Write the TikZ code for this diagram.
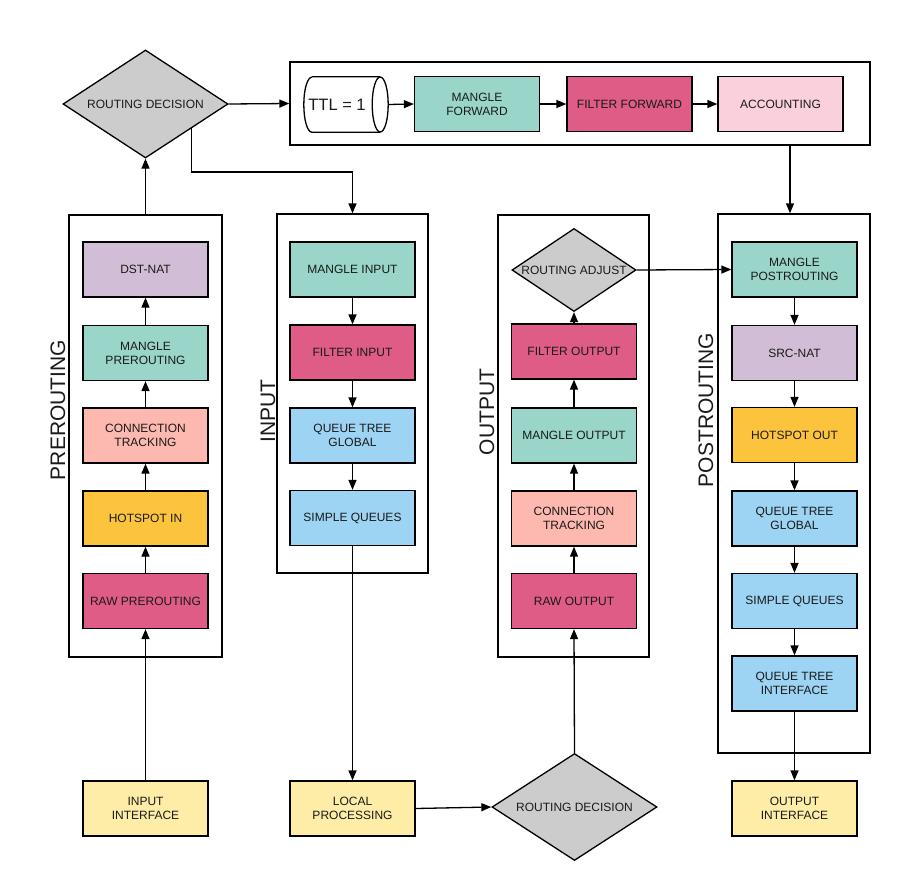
\documentclass[tikz,border=0pt]{standalone}
\usepackage{fontspec}
\setmainfont{Liberation Sans}
\usetikzlibrary{shapes.geometric,arrows.meta}
\definecolor{txt}{HTML}{1A1A1A}
\definecolor{cmangle}{HTML}{9AD5CA}
\definecolor{cfilter}{HTML}{DE5C86}
\definecolor{cacct}{HTML}{F9D0DC}
\definecolor{cnat}{HTML}{D2BDD6}
\definecolor{cconn}{HTML}{FDB8AF}
\definecolor{chot}{HTML}{FBC43C}
\definecolor{cqueue}{HTML}{9DD3F3}
\definecolor{ciface}{HTML}{FEEDA6}
\definecolor{cdec}{HTML}{CCCCCC}
\begin{document}
\begin{tikzpicture}[x=1pt,y=-1pt,
  stagebox/.style={draw=black, line width=1.3pt, minimum width=125pt, minimum height=55pt, inner sep=0pt, align=center, text=txt, font=\fontsize{12}{14}\selectfont},
  framebox/.style={draw=black, line width=1.3pt, inner sep=0pt},
  decision/.style={diamond, draw=black, line width=1.3pt, fill=cdec, aspect=1.5, inner sep=0pt, text=txt, font=\fontsize{12}{14}\selectfont},
  arr/.style={line width=1.3pt, -{Triangle[length=10pt,width=8pt]}},
  plain/.style={line width=1.3pt},
  chainlabel/.style={rotate=90, font=\fontsize{21}{21}\selectfont, inner sep=0pt, text height=15pt, text depth=0pt, text=txt}]
\useasboundingbox (0,0) rectangle (913,886);

% containers
\node[framebox, minimum width=153pt, minimum height=442pt] (prebox) at (145.5,436) {};
\node[framebox, minimum width=151pt, minimum height=359pt] (inbox) at (352.5,393.5) {};
\node[framebox, minimum width=151pt, minimum height=442pt] (outbox) at (573.5,436) {};
\node[framebox, minimum width=152pt, minimum height=539pt] (postbox) at (794,483.5) {};
\node[framebox, minimum width=580pt, minimum height=83pt] (topbox) at (580,103.5) {};

% chain labels
\node[chainlabel] (lpre) at (57.5,410) {PREROUTING};
\node[chainlabel] (lin) at (267.5,411) {INPUT};
\node[chainlabel] (lout) at (486.5,412) {OUTPUT};
\node[chainlabel] (lpost) at (705.5,410) {POSTROUTING};

% decisions
\node[decision, minimum width=165pt, minimum height=108pt] (dec1) at (145.5,104) {ROUTING DECISION};
\node[decision, minimum width=165pt, minimum height=107pt] (dec2) at (574.5,807) {ROUTING DECISION};
\node[decision, minimum width=124pt, minimum height=83pt] (radj) at (574,270) {ROUTING ADJUST};

% prerouting
\node[stagebox, fill=cnat] (dstnat) at (145.5,269.5) {DST-NAT};
\node[stagebox, fill=cmangle] (mpre) at (145.5,353) {MANGLE\\PREROUTING};
\node[stagebox, fill=cconn] (ctpre) at (145.5,435.5) {CONNECTION\\TRACKING};
\node[stagebox, fill=chot] (hin) at (145.5,518.5) {HOTSPOT IN};
\node[stagebox, fill=cfilter] (rawpre) at (145.5,601) {RAW PREROUTING};

% input
\node[stagebox, fill=cmangle] (min) at (352.5,269.5) {MANGLE INPUT};
\node[stagebox, fill=cfilter] (fin) at (352.5,352.5) {FILTER INPUT};
\node[stagebox, fill=cqueue] (qtgin) at (352.5,435.5) {QUEUE TREE\\GLOBAL};
\node[stagebox, fill=cqueue] (sqin) at (352.5,518) {SIMPLE QUEUES};

% output
\node[stagebox, fill=cfilter] (fout) at (574,351.5) {FILTER OUTPUT};
\node[stagebox, fill=cmangle] (mout) at (574,435.5) {MANGLE OUTPUT};
\node[stagebox, fill=cconn] (ctout) at (574,518.5) {CONNECTION\\TRACKING};
\node[stagebox, fill=cfilter] (rawout) at (574,601) {RAW OUTPUT};

% postrouting
\node[stagebox, fill=cmangle] (mpost) at (794.5,269.5) {MANGLE\\POSTROUTING};
\node[stagebox, fill=cnat] (srcnat) at (794.5,353) {SRC-NAT};
\node[stagebox, fill=chot] (hout) at (794.5,435) {HOTSPOT OUT};
\node[stagebox, fill=cqueue] (qtgpost) at (794.5,518.5) {QUEUE TREE\\GLOBAL};
\node[stagebox, fill=cqueue] (sqpost) at (794.5,601) {SIMPLE QUEUES};
\node[stagebox, fill=cqueue] (qti) at (794.5,683.5) {QUEUE TREE\\INTERFACE};

% bottom
\node[stagebox, fill=ciface] (inif) at (145.5,808.5) {INPUT\\INTERFACE};
\node[stagebox, fill=ciface] (lp) at (352.5,808.5) {LOCAL\\PROCESSING};
\node[stagebox, fill=ciface] (outif) at (794.5,808.5) {OUTPUT\\INTERFACE};

% forward row
\node[inner sep=0pt, minimum width=84pt, minimum height=55pt] (ttl) at (346,104.5) {};
\node[inner sep=0pt, text=txt, font=\fontsize{16.5}{16.5}\selectfont] (ttltext) at (337,104.5) {TTL = 1};
\draw[plain] ([xshift=8pt]ttl.north west) -- ([xshift=-8pt]ttl.north east)
  ([xshift=-8pt]ttl.south east) -- ([xshift=8pt]ttl.south west)
  arc[start angle=270, end angle=90, x radius=8pt, y radius=27.5pt];
\draw[plain] ([xshift=-8pt]ttl.east) ellipse [x radius=8pt, y radius=27.5pt];
\node[stagebox, fill=cmangle] (mfwd) at (477,104) {MANGLE\\FORWARD};
\node[stagebox, fill=cfilter] (ffwd) at (629.5,104) {FILTER FORWARD};
\node[stagebox, fill=cacct] (acct) at (780.5,104) {ACCOUNTING};

% connectors
\coordinate (fx) at (790,0);
\coordinate (jn) at (352.5,172);
\draw[arr] (dec1.east) -- (topbox.west);
\draw[arr] (ttl.east) -- (mfwd.west);
\draw[arr] (mfwd.east) -- (ffwd.west);
\draw[arr] (ffwd.east) -- (acct.west);
\draw[arr] (topbox.south -| fx) -- (postbox.north -| fx);

\draw[arr] (inif.north) -- (rawpre.south);
\draw[arr] (rawpre.north) -- (hin.south);
\draw[arr] (hin.north) -- (ctpre.south);
\draw[arr] (ctpre.north) -- (mpre.south);
\draw[arr] (mpre.north) -- (dstnat.south);
\draw[arr] (prebox.north) -- (dec1.south);

\draw[arr] (dec1.-28) |- (jn) -- (inbox.north);
\draw[arr] (min.south) -- (fin.north);
\draw[arr] (fin.south) -- (qtgin.north);
\draw[arr] (qtgin.south) -- (sqin.north);
\draw[arr] (sqin.south) -- (lp.north);

\draw[arr] (lp.east) -- (dec2.west);
\draw[arr] (dec2.north) -- (rawout.south);
\draw[arr] (rawout.north) -- (ctout.south);
\draw[arr] (ctout.north) -- (mout.south);
\draw[arr] (mout.north) -- (fout.south);
\draw[arr] (fout.north) -- (radj.south);
\draw[arr] (radj.east) -- (mpost.west);

\draw[arr] (mpost.south) -- (srcnat.north);
\draw[arr] (srcnat.south) -- (hout.north);
\draw[arr] (hout.south) -- (qtgpost.north);
\draw[arr] (qtgpost.south) -- (sqpost.north);
\draw[arr] (sqpost.south) -- (qti.north);
\draw[arr] (qti.south) -- (outif.north);
\end{tikzpicture}
\end{document}
